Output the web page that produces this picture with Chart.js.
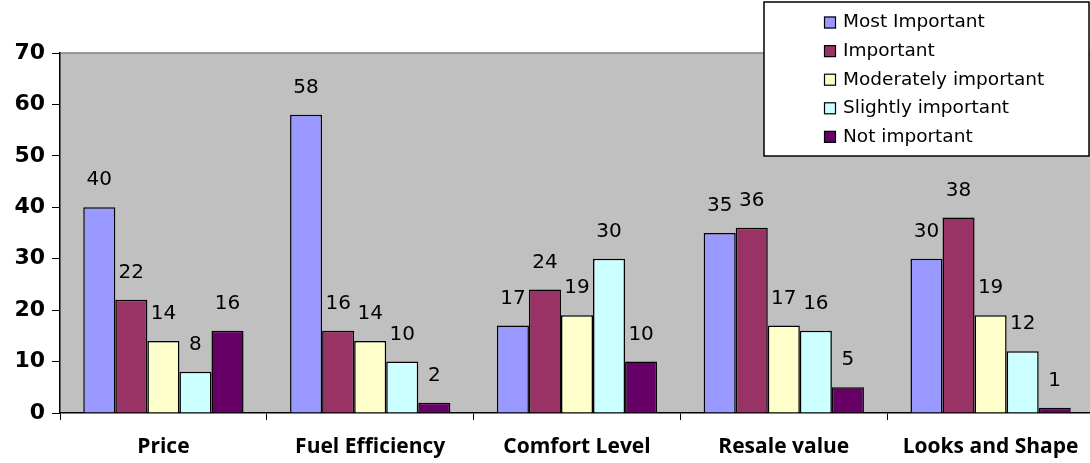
<!DOCTYPE html>
<html>
<head>
<meta charset="utf-8">
<script src="https://cdn.jsdelivr.net/npm/chart.js@4/dist/chart.umd.min.js"></script>
<style>
  html, body { margin: 0; padding: 0; background: #ffffff; }
  #wrap { width: 1090px; height: 463px; position: relative; overflow: hidden; }
  #c { position: absolute; left: 0; top: 0; }
</style>
</head>
<body>
<div id="wrap"><canvas id="c" width="1094" height="463"></canvas></div>
<script>
// Survey: importance of each factor when choosing a car
const categories = ['Price', 'Fuel Efficiency', 'Comfort Level', 'Resale value', 'Looks and Shape'];
const seriesNames = ['Most Important', 'Important', 'Moderately important', 'Slightly important', 'Not important'];
const mostImportant       = [40, 58, 17, 35, 30];
const important           = [22, 16, 24, 36, 38];
const moderatelyImportant = [14, 14, 19, 17, 19];
const slightlyImportant   = [8, 10, 30, 16, 12];
const notImportant        = [16, 2, 10, 5, 1];
const yTicks = [0, 10, 20, 30, 40, 50, 60, 70];

const seriesValues = [mostImportant, important, moderatelyImportant, slightlyImportant, notImportant];
const seriesColors = ['#9999FF', '#993366', '#FFFFCC', '#CCFFFF', '#660066'];

const LABEL_FONT = '"Open Sans", sans-serif';
const TEXT_FONT = '"DejaVu Sans", sans-serif';

// Grey plot background with a thin top edge
const plotBackground = {
  id: 'plotBackground',
  beforeDraw(chart) {
    const { ctx, chartArea: a } = chart;
    ctx.save();
    ctx.fillStyle = '#C0C0C0';
    ctx.fillRect(a.left, a.top, a.right - a.left, a.bottom - a.top);
    ctx.strokeStyle = '#808080';
    ctx.lineWidth = 1.5;
    ctx.beginPath();
    ctx.moveTo(a.left, a.top);
    ctx.lineTo(a.right, a.top);
    ctx.stroke();
    ctx.restore();
  }
};

// Value labels above each bar
const valueLabels = {
  id: 'valueLabels',
  afterDatasetsDraw(chart) {
    const { ctx } = chart;
    ctx.save();
    ctx.font = '20px ' + TEXT_FONT;
    ctx.fillStyle = '#000000';
    ctx.textAlign = 'center';
    ctx.textBaseline = 'alphabetic';
    chart.data.datasets.forEach((ds, i) => {
      const meta = chart.getDatasetMeta(i);
      meta.data.forEach((bar, j) => {
        ctx.fillText(String(ds.data[j]), bar.x, bar.y - 22);
      });
    });
    ctx.restore();
  }
};

// Boxed legend in the top-right corner, overlapping the plot
const boxLegend = {
  id: 'boxLegend',
  afterDraw(chart) {
    const { ctx } = chart;
    const x0 = 764, y0 = 2, x1 = 1089, y1 = 156;
    ctx.save();
    ctx.fillStyle = '#ffffff';
    ctx.fillRect(x0, y0, x1 - x0, y1 - y0);
    ctx.strokeStyle = '#000000';
    ctx.lineWidth = 1.5;
    ctx.strokeRect(x0, y0, x1 - x0, y1 - y0);
    ctx.font = '18.5px ' + TEXT_FONT;
    ctx.textBaseline = 'middle';
    ctx.textAlign = 'left';
    chart.data.datasets.forEach((ds, i) => {
      const cy = 22.5 + i * 28.6;
      ctx.fillStyle = ds.backgroundColor;
      ctx.fillRect(824, cy - 6, 12, 12);
      ctx.strokeStyle = '#000000';
      ctx.lineWidth = 1.2;
      ctx.strokeRect(824.5, cy - 5.5, 11, 11);
      ctx.fillStyle = '#000000';
      ctx.fillText(ds.label, 843, cy);
    });
    ctx.restore();
  }
};

new Chart(document.getElementById('c'), {
  type: 'bar',
  data: {
    labels: categories,
    datasets: seriesNames.map((name, i) => ({
      label: name,
      data: seriesValues[i],
      backgroundColor: seriesColors[i],
      borderColor: '#000000',
      borderWidth: 1.5,
      barPercentage: 1.0,
      categoryPercentage: 0.775
    }))
  },
  options: {
    responsive: false,
    animation: false,
    devicePixelRatio: 1,
    layout: { padding: { top: 53, right: 0, left: 0, bottom: 0 } },
    plugins: {
      legend: { display: false },
      tooltip: { enabled: false }
    },
    scales: {
      x: {
        grid: {
          offset: true,
          drawOnChartArea: false,
          drawTicks: true,
          tickLength: 7,
          color: '#000000',
          lineWidth: 1
        },
        border: { display: true, color: '#000000', width: 1.5 },
        ticks: {
          color: '#000000',
          font: { family: LABEL_FONT, size: 21, weight: 'bold' },
          padding: 14,
          maxRotation: 0,
          autoSkip: false
        },
        afterFit(scale) { scale.height = 50; }
      },
      y: {
        min: 0,
        max: 70,
        afterBuildTicks(scale) { scale.ticks = yTicks.map(v => ({ value: v })); },
        grid: {
          drawOnChartArea: false,
          drawTicks: true,
          tickLength: 8,
          color: '#000000',
          lineWidth: 1
        },
        border: { display: true, color: '#000000', width: 1.5 },
        ticks: {
          color: '#000000',
          font: { family: TEXT_FONT, size: 22, weight: 'bold' },
          padding: 7
        },
        afterFit(scale) { scale.width = 60; }
      }
    }
  },
  plugins: [plotBackground, valueLabels, boxLegend]
});
</script>
</body>
</html>
